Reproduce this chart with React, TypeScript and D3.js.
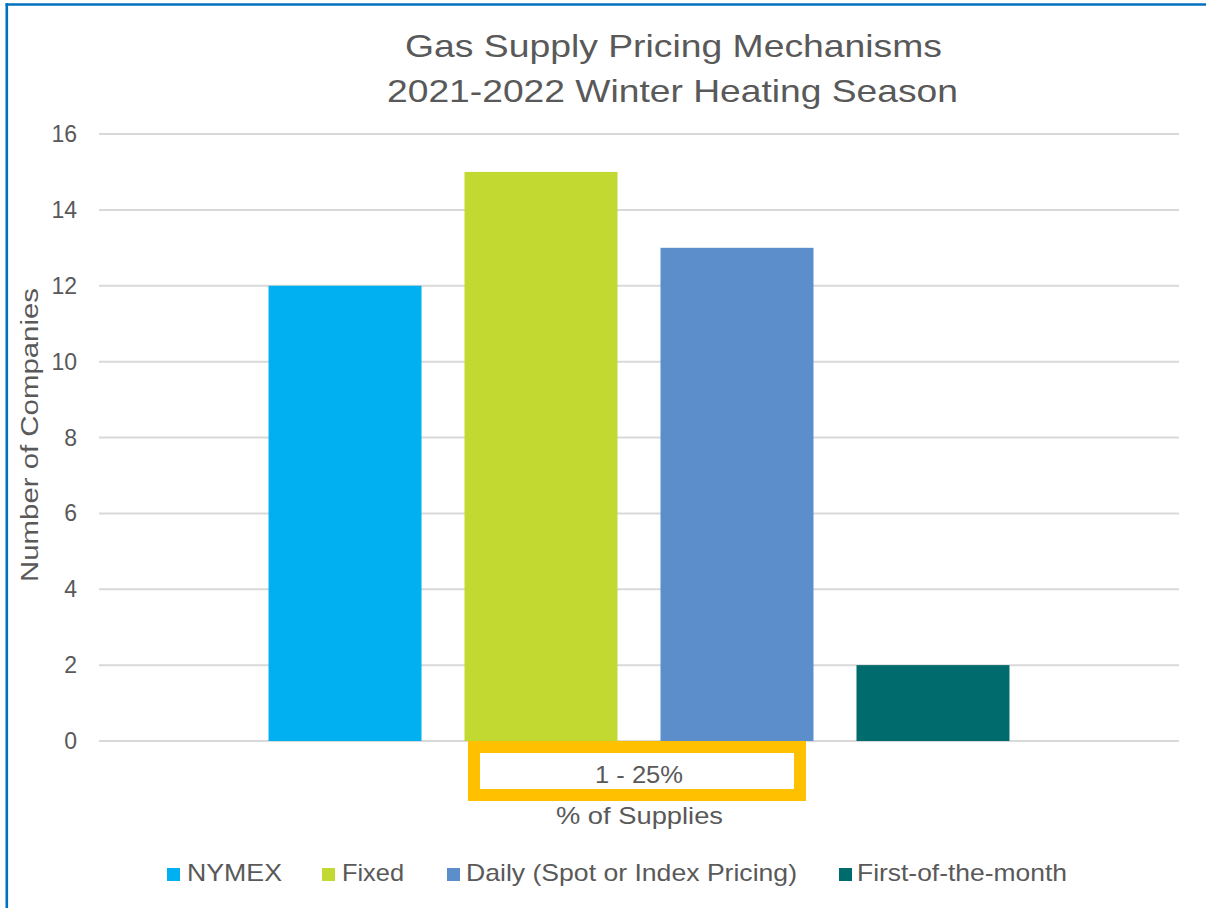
import React from "react";
import * as d3 from "d3";

const categories = ["1 - 25%"];
const seriesNames = ["NYMEX", "Fixed", "Daily (Spot or Index Pricing)", "First-of-the-month"];
const seriesValues = [12, 15, 13, 2];
const seriesColors = ["#00B0F0", "#C2D932", "#5B8ECB", "#006B6D"];
const yTicks = [0, 2, 4, 6, 8, 10, 12, 14, 16];
const titleLines = ["Gas Supply Pricing Mechanisms", "2021-2022 Winter Heating Season"];

const W = 1206;
const H = 908;
const FONT = "'Liberation Sans', Arial, sans-serif";
const TXT = "#595959";

export default function App() {
  const left = 99, right = 1179, top = 134, bottom = 741;
  const y = d3.scaleLinear().domain([0, 16]).range([bottom, top]);
  const x0 = d3.scaleBand<string>().domain(categories).range([left, right]);
  const x1 = d3
    .scaleBand<string>()
    .domain(seriesNames)
    .range([0, x0.bandwidth()])
    .paddingInner(0.2194)
    .paddingOuter(0.865);
  const cat = categories[0];

  const titleX = [405, 387];
  const titleLen = [537, 571];
  const titleY = [57, 102];
  const legendSq = [167, 322, 447, 839];
  const legendTx = [187, 342, 466, 857];
  const legendLen = [95, 62, 331, 210];
  const adj = "spacingAndGlyphs";

  return (
    <div style={{ position: "absolute", left: 0, top: 0 }}>
      <svg width={W} height={H} style={{ display: "block", background: "#fff" }} fontFamily={FONT}>
        <rect x={0} y={0} width={W} height={H} fill="#fff" />
        <line x1={6.8} x2={6.8} y1={3.3} y2={H} stroke="#0070C0" strokeWidth={2.6} />
        <line x1={5.5} x2={W} y1={4.5} y2={4.5} stroke="#0070C0" strokeWidth={2.6} />

        {titleLines.map((t, i) => (
          <text
            key={t}
            x={titleX[i]}
            y={titleY[i]}
            fontSize={32}
            fill={TXT}
            textLength={titleLen[i]}
            lengthAdjust={adj}
          >
            {t}
          </text>
        ))}

        {yTicks.map((v) => (
          <g key={v}>
            <line x1={left} x2={right} y1={y(v)} y2={y(v)} stroke="#D9D9D9" strokeWidth={2} />
            <text x={77} y={y(v) + 8} textAnchor="end" fontSize={23} fill={TXT}>
              {v}
            </text>
          </g>
        ))}

        {seriesNames.map((s, i) => (
          <rect
            key={s}
            x={(x0(cat) ?? 0) + (x1(s) ?? 0)}
            y={y(seriesValues[i])}
            width={x1.bandwidth()}
            height={y(0) - y(seriesValues[i])}
            fill={seriesColors[i]}
          />
        ))}

        <rect x={474} y={747} width={326} height={48} fill="#fff" stroke="#FFC000" strokeWidth={12} />
        <text x={595} y={783} fontSize={24} fill={TXT} textLength={88} lengthAdjust={adj}>
          {cat}
        </text>
        <text x={556} y={824} fontSize={24} fill={TXT} textLength={167} lengthAdjust={adj}>
          % of Supplies
        </text>

        <text
          transform={`translate(38, 435) rotate(-90)`}
          x={-147}
          fontSize={23}
          fill={TXT}
          textLength={294}
          lengthAdjust={adj}
        >
          Number of Companies
        </text>

        {seriesNames.map((s, i) => (
          <g key={s}>
            <rect x={legendSq[i]} y={868} width={13} height={13} fill={seriesColors[i]} />
            <text
              x={legendTx[i]}
              y={881}
              fontSize={24}
              fill={TXT}
              textLength={legendLen[i]}
              lengthAdjust={adj}
            >
              {s}
            </text>
          </g>
        ))}
      </svg>
    </div>
  );
}
